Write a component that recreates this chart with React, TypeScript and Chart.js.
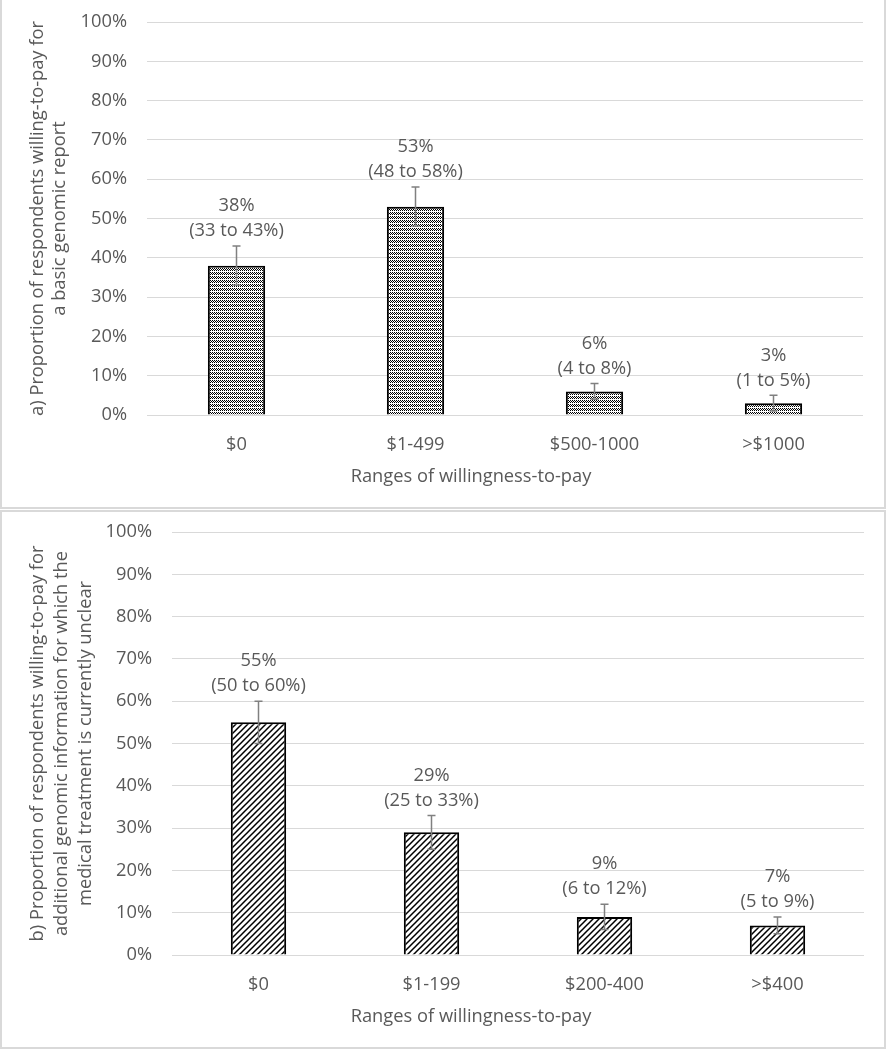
import React, { useEffect, useRef } from "react";
import { Chart, registerables } from "chart.js";

Chart.register(...registerables);

const catsA = ["$0", "$1-499", "$500-1000", ">$1000"];
const valsA = [38, 53, 6, 3];
const lowA = [33, 48, 4, 1];
const highA = [43, 58, 8, 5];
const titleA = ["a) Proportion of respondents willing-to-pay for", "a basic genomic report"];

const catsB = ["$0", "$1-199", "$200-400", ">$400"];
const valsB = [55, 29, 9, 7];
const lowB = [50, 25, 6, 5];
const highB = [60, 33, 12, 9];
const titleB = [
  "b) Proportion of respondents willing-to-pay for",
  "additional genomic information for which the",
  "medical treatment is currently unclear",
];

const xTitle = "Ranges of willingness-to-pay";
const yTicks = [0, 10, 20, 30, 40, 50, 60, 70, 80, 90, 100];

const FONT = "'Open Sans'";
const FS = 18.3;
const TEXT = "#595959";
const GRID = "#d9d9d9";

function makeDots(): CanvasPattern | string {
  const c = document.createElement("canvas");
  c.width = 4;
  c.height = 4;
  const g = c.getContext("2d");
  if (!g) return "#bbb";
  g.fillStyle = "#fff";
  g.fillRect(0, 0, 4, 4);
  g.fillStyle = "#000";
  [[0, 0], [2, 0], [1, 1], [3, 1], [0, 2], [2, 2]].forEach(([x, y]) => g.fillRect(x, y, 1, 1));
  const p = g.createPattern(c, "repeat");
  return p || "#bbb";
}

function makeStripes(): CanvasPattern | string {
  const s = 6;
  const c = document.createElement("canvas");
  c.width = s;
  c.height = s;
  const g = c.getContext("2d");
  if (!g) return "#999";
  g.fillStyle = "#fff";
  g.fillRect(0, 0, s, s);
  g.strokeStyle = "#000";
  g.lineWidth = 1.5;
  g.beginPath();
  g.moveTo(-1, s + 1);
  g.lineTo(s + 1, -1);
  g.moveTo(-1, 1);
  g.lineTo(1, -1);
  g.moveTo(s - 1, s + 1);
  g.lineTo(s + 1, s - 1);
  g.stroke();
  const p = g.createPattern(c, "repeat");
  return p || "#999";
}

type PanelProps = {
  top: number;
  height: number;
  cats: string[];
  vals: number[];
  low: number[];
  high: number[];
  yTitle: string[];
  yTitleX: number[];
  plotLeft: number;
  plotRight: number;
  plotTop: number;
  plotBottom: number;
  pattern: "dots" | "stripes";
  labelGap: number;
  xTitleY: number;
};

function Panel(props: PanelProps) {
  const ref = useRef<HTMLCanvasElement | null>(null);
  useEffect(() => {
    const canvas = ref.current;
    if (!canvas) return;
    const W = 886;
    const H = props.height;
    const fill = props.pattern === "dots" ? makeDots() : makeStripes();
    const overlay = {
      id: "overlay",
      afterDatasetsDraw(chart: any) {
        const ctx = chart.ctx;
        const meta = chart.getDatasetMeta(0);
        const ys = chart.scales.y;
        ctx.save();
        ctx.strokeStyle = "#808080";
        ctx.lineWidth = 1.5;
        meta.data.forEach((bar: any, i: number) => {
          const x = bar.x;
          const yh = ys.getPixelForValue(props.high[i]);
          const yl = ys.getPixelForValue(props.low[i]);
          ctx.beginPath();
          ctx.moveTo(x, yh);
          ctx.lineTo(x, yl);
          ctx.moveTo(x - 4, yh);
          ctx.lineTo(x + 4, yh);
          ctx.moveTo(x - 4, yl);
          ctx.lineTo(x + 4, yl);
          ctx.stroke();
        });
        ctx.fillStyle = TEXT;
        ctx.font = `${FS}px ${FONT}`;
        ctx.textAlign = "center";
        ctx.textBaseline = "middle";
        meta.data.forEach((bar: any, i: number) => {
          const x = bar.x;
          const yh = ys.getPixelForValue(props.high[i]);
          const l2 = yh - props.labelGap;
          ctx.fillText(`(${props.low[i]} to ${props.high[i]}%)`, x, l2);
          ctx.fillText(`${props.vals[i]}%`, x, l2 - 25);
        });
        ctx.restore();
      },
      afterDraw(chart: any) {
        const ctx = chart.ctx;
        const ca = chart.chartArea;
        ctx.save();
        ctx.fillStyle = TEXT;
        ctx.font = `${FS}px ${FONT}`;
        ctx.textAlign = "center";
        ctx.textBaseline = "middle";
        ctx.fillText(xTitle, 471, props.xTitleY);
        const cy = (ca.top + ca.bottom) / 2;
        props.yTitle.forEach((t, i) => {
          ctx.save();
          ctx.translate(props.yTitleX[i], cy);
          ctx.rotate(-Math.PI / 2);
          ctx.fillText(t, 0, 0);
          ctx.restore();
        });
        ctx.restore();
      },
    };
    const chart = new Chart(canvas, {
      type: "bar",
      data: {
        labels: props.cats,
        datasets: [
          {
            data: props.vals,
            backgroundColor: fill as any,
            borderColor: "#000",
            borderWidth: 2,
            categoryPercentage: 1,
            barPercentage: 0.32,
          },
        ],
      },
      options: {
        animation: false,
        responsive: false,
        maintainAspectRatio: false,
        layout: {
          padding: {
            left: 0,
            right: W - props.plotRight,
            top: props.plotTop,
            bottom: 0,
          },
        },
        plugins: {
          legend: { display: false },
          tooltip: { enabled: false },
        },
        scales: {
          x: {
            grid: { display: false },
            border: { display: false },
            ticks: {
              color: TEXT,
              font: { family: FONT, size: FS },
              padding: 11,
              maxRotation: 0,
            },
            afterFit(s: any) {
              s.height = H - props.plotBottom;
              s.paddingLeft = 0;
              s.paddingRight = 0;
            },
          },
          y: {
            min: 0,
            max: 100,
            afterBuildTicks(s: any) {
              s.ticks = yTicks.map((v) => ({ value: v }));
            },
            grid: { color: GRID, lineWidth: 1, drawTicks: false },
            border: { display: false },
            ticks: {
              color: TEXT,
              font: { family: FONT, size: FS },
              padding: 20,
              callback: (v: any) => `${v}%`,
            },
            afterFit(s: any) {
              s.width = props.plotLeft;
              s.paddingTop = 0;
              s.paddingBottom = 0;
            },
          },
        },
      },
      plugins: [overlay],
    });
    return () => chart.destroy();
  }, []);
  return (
    <canvas
      ref={ref}
      width={886}
      height={props.height}
      style={{ position: "absolute", left: 0, top: props.top, width: 886, height: props.height }}
    />
  );
}

export default function App() {
  return (
    <div style={{ position: "absolute", left: 0, top: 0, width: 886, height: 1050, background: "#fff", overflow: "hidden" }}>
      <Panel
        top={0}
        height={508}
        cats={catsA}
        vals={valsA}
        low={lowA}
        high={highA}
        yTitle={titleA}
        yTitleX={[38, 60]}
        plotLeft={147}
        plotRight={863}
        plotTop={22}
        plotBottom={415}
        pattern="dots"
        labelGap={15}
        xTitleY={477}
      />
      <Panel
        top={510}
        height={540}
        cats={catsB}
        vals={valsB}
        low={lowB}
        high={highB}
        yTitle={titleB}
        yTitleX={[38, 62, 86]}
        plotLeft={172}
        plotRight={864}
        plotTop={22}
        plotBottom={445}
        pattern="stripes"
        labelGap={15}
        xTitleY={507}
      />
      <div style={{ position: "absolute", left: 0, top: -2, width: 886, height: 511, border: "2px solid #d9d9d9", boxSizing: "border-box", pointerEvents: "none" }} />
      <div style={{ position: "absolute", left: 0, top: 510, width: 886, height: 539, border: "2px solid #d9d9d9", boxSizing: "border-box", pointerEvents: "none" }} />
    </div>
  );
}
